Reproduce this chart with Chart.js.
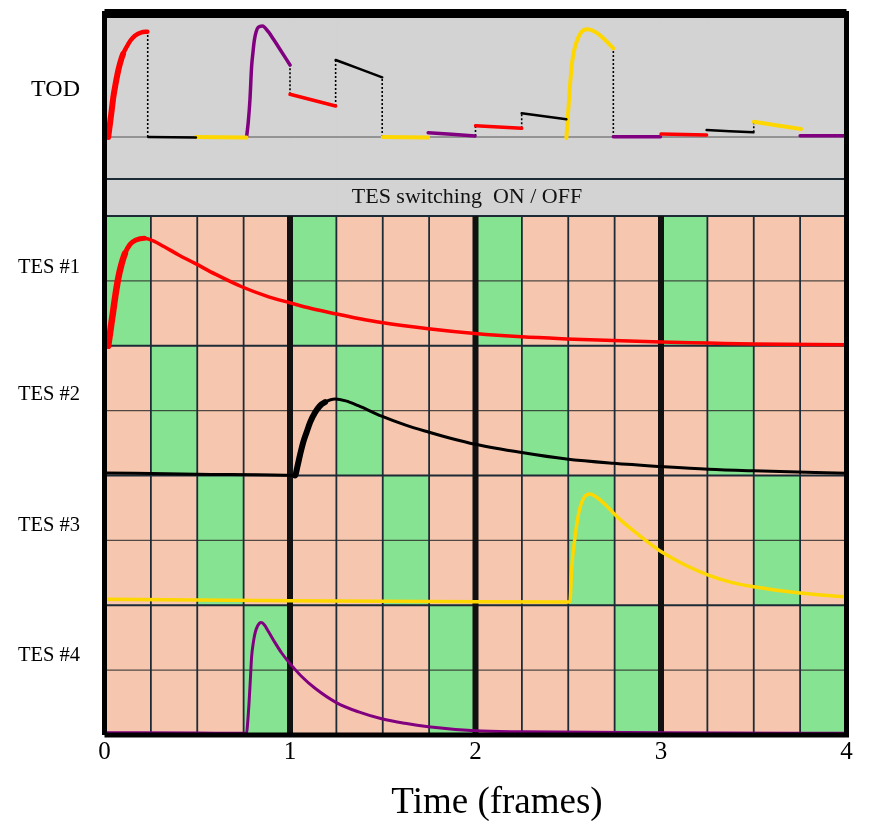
<!DOCTYPE html>
<html lang="fr">
<head>
<meta charset="utf-8">
<title>TOD / TES</title>
<script src="https://cdn.jsdelivr.net/npm/chart.js@4.4.1/dist/chart.umd.min.js"></script>
<style>
  html, body { margin: 0; padding: 0; background: #fff; }
  #graphique { display: block; }
</style>
</head>
<body>
<canvas id="graphique" width="873" height="821"></canvas>
<script>
'use strict';

/* === DONNÉES === */

// axe des temps, en trames
const GRADUATIONS_X = [0, 1, 2, 3, 4];

// étiquettes de gauche (de bas en haut) et leur hauteur en unités de ligne
const ETIQUETTES_LIGNES = ['TES #4', 'TES #3', 'TES #2', 'TES #1', 'TOD'];
const POSITIONS_ETIQUETTES = [0.609, 1.611, 2.62, 3.599, 4.971];

// centres des 16 colonnes (un quart de trame chacune)
const COLONNES = [0.125, 0.375, 0.625, 0.875, 1.125, 1.375, 1.625, 1.875,
  2.125, 2.375, 2.625, 2.875, 3.125, 3.375, 3.625, 3.875];
const LIMITES_COLONNES = [0.25, 0.5, 0.75, 1, 1.25, 1.5, 1.75, 2, 2.25, 2.5, 2.75, 3, 3.25, 3.5, 3.75];
const LIMITES_TRAMES = [1, 2, 3];

// colonnes où chaque TES est ON (vert)
const ON_TES1 = [0.125, 1.125, 2.125, 3.125];
const ON_TES2 = [0.375, 1.375, 2.375, 3.375];
const ON_TES3 = [0.625, 1.625, 2.625, 3.625];
const ON_TES4 = [0.875, 1.875, 2.875, 3.875];

// signaux TES : [temps, hauteur dans la ligne (0 = bas, 1 = haut)]
const TES1_ROUGE = [
  [0.02, 0], [0.035, 0.15], [0.047, 0.27], [0.06, 0.40], [0.074, 0.52], [0.09, 0.62], [0.11, 0.71],
  [0.137, 0.78], [0.17, 0.815], [0.215, 0.829], [0.26, 0.81], [0.32, 0.765], [0.4, 0.70], [0.488, 0.635],
  [0.6, 0.55], [0.74, 0.455], [0.87, 0.385], [1.0, 0.331], [1.12, 0.285], [1.252, 0.245], [1.37, 0.21],
  [1.494, 0.179], [1.746, 0.132], [1.997, 0.095], [2.249, 0.069], [2.49, 0.053], [2.743, 0.04], [3.0, 0.029],
  [3.255, 0.021], [3.5, 0.013], [4.0, 0.008]
];
const TES2_NOIR = [
  [0, 0.02], [0.5, 0.01], [1.0, 0.002], [1.027, 0], [1.04, 0.07], [1.054, 0.158], [1.07, 0.25], [1.09, 0.335],
  [1.11, 0.415], [1.135, 0.485], [1.16, 0.535], [1.189, 0.565], [1.243, 0.589], [1.3, 0.575], [1.368, 0.538],
  [1.494, 0.457], [1.62, 0.39], [1.746, 0.335], [1.87, 0.285], [1.997, 0.241], [2.249, 0.177], [2.49, 0.127],
  [2.743, 0.094], [3.0, 0.069], [3.255, 0.048], [3.5, 0.036], [4.0, 0.018]
];
const TES3_JAUNE = [
  [0, 0.046], [1.0, 0.035], [2.0, 0.027], [2.5, 0.025], [2.51, 0.03], [2.518, 0.27], [2.536, 0.521], [2.55, 0.66],
  [2.563, 0.75], [2.59, 0.84], [2.617, 0.857], [2.653, 0.832], [2.7, 0.775], [2.743, 0.712], [2.8, 0.635],
  [2.869, 0.555], [2.94, 0.475], [3.004, 0.41], [3.13, 0.31], [3.255, 0.232], [3.37, 0.18], [3.5, 0.142],
  [3.749, 0.094], [4.0, 0.063]
];
const TES4_VIOLET = [
  [0, 0.018], [0.5, 0.015], [0.766, 0.013], [0.772, 0.1], [0.779, 0.244], [0.786, 0.42], [0.793, 0.602],
  [0.802, 0.71], [0.811, 0.782], [0.825, 0.84], [0.844, 0.867], [0.86, 0.852], [0.883, 0.80], [0.92, 0.71],
  [0.955, 0.632], [1.0, 0.55], [1.06, 0.455], [1.135, 0.36], [1.252, 0.248], [1.37, 0.178], [1.494, 0.125],
  [1.62, 0.09], [1.746, 0.064], [1.997, 0.033], [2.249, 0.025], [3.0, 0.018], [4.0, 0.013]
];

// TOD : [temps, valeur], null = coupure entre deux morceaux
const TOD_ROUGE = [
  [0.02, 0], [0.03, 0.14], [0.039, 0.27], [0.047, 0.39], [0.057, 0.503], [0.07, 0.63], [0.084, 0.737],
  [0.1, 0.83], [0.12, 0.903], [0.14, 0.965], [0.164, 1.013], [0.2, 1.047], [0.231, 1.053],
  null, [1.0, 0.427], [1.246, 0.31],
  null, [2.0, 0.113], [2.249, 0.087],
  null, [3.0, 0.03], [3.246, 0.02]
];
const TOD_NOIR = [
  [0.236, 0], [0.493, -0.005],
  null, [1.246, 0.77], [1.368, 0.687], [1.497, 0.597],
  null, [2.249, 0.237], [2.49, 0.177],
  null, [3.246, 0.07], [3.498, 0.047]
];
const TOD_JAUNE = [
  [0.493, 0], [0.766, -0.005],
  null, [1.5, 0], [1.745, -0.005],
  null, [2.49, -0.01], [2.504, 0.37], [2.518, 0.703], [2.53, 0.85], [2.542, 0.937], [2.572, 1.053],
  [2.603, 1.077], [2.644, 1.053], [2.689, 0.987], [2.743, 0.887],
  null, [3.5, 0.153], [3.755, 0.08]
];
const TOD_VIOLET = [
  [0.766, 0], [0.775, 0.15], [0.784, 0.37], [0.793, 0.703], [0.8, 0.84], [0.808, 0.97], [0.829, 1.097],
  [0.851, 1.11], [0.883, 1.053], [0.91, 0.98], [0.937, 0.903], [1.0, 0.72],
  null, [1.745, 0.043], [1.997, 0.01],
  null, [2.743, 0.003], [2.997, 0.003],
  null, [3.75, 0.013], [4.0, 0.013]
];

// sauts en pointillés du TOD
const POINTILLES_X = [0.233, 1.0, 1.246, 1.497, 2.0, 2.249, 2.743, 3.5];
const POINTILLES_HAUT = [1.053, 0.72, 0.77, 0.597, 0.125, 0.25, 0.887, 0.153];
const POINTILLES_BAS = [0, 0.427, 0.31, 0, 0.01, 0.087, 0, 0.047];

const TEXTE_BANDEAU = 'TES switching  ON / OFF';
const TITRE_X = 'Time (frames)';

/* === MISE EN PAGE === */

const POLICE = '"Liberation Serif", "Times New Roman", serif';
const Y_MAX = 5.561;      // haut de la zone de tracé (1 unité = une ligne TES)
const Y_BANDEAU = 4.285;  // trait entre le TOD et le bandeau
const TOD_BASE = 4.609;   // ligne de base du TOD
const TOD_UNITE = 0.7707; // une unité TOD en unités de ligne

const VERT = '#86e391';
const SAUMON = '#f6c6ae';
const GRIS = '#d3d3d3';
const TRAIT_GRILLE = '#1c2b36';

/* === HELPERS === */

function versPoints(paires) {
  let dernierX = 0;
  return paires.map(p => {
    if (!p) return { x: dernierX, y: null };
    dernierX = p[0];
    return { x: p[0], y: p[1] };
  });
}

function ligne(paires, options) {
  return Object.assign({
    type: 'line',
    data: versPoints(paires),
    pointRadius: 0,
    fill: false,
    spanGaps: false,
    tension: 0,
    borderCapStyle: 'butt',
    yAxisID: 'y'
  }, options);
}

function courbe(paires, couleur, largeur, axe, options) {
  return ligne(paires, Object.assign({
    borderColor: couleur,
    borderWidth: largeur,
    cubicInterpolationMode: 'monotone',
    borderJoinStyle: 'round',
    borderCapStyle: 'round',
    yAxisID: axe,
    order: 3
  }, options || {}));
}

function barres(centres, bas, haut, couleur, ordre) {
  return {
    type: 'bar',
    data: centres.map(x => ({ x, y: [bas, haut] })),
    backgroundColor: couleur,
    borderWidth: 0,
    barPercentage: 1,
    categoryPercentage: 1,
    grouped: false,
    yAxisID: 'y',
    order: ordre
  };
}

function segmentsVerticaux(xs, bas, haut) {
  const paires = [];
  xs.forEach(x => paires.push([x, bas], [x, haut], null));
  return paires;
}

function segmentsHorizontaux(ys) {
  const paires = [];
  ys.forEach(y => paires.push([0, y], [4, y], null));
  return paires;
}

function axeCache(base, unite) {
  return { type: 'linear', display: false, min: -base / unite, max: (Y_MAX - base) / unite };
}

/* === JEUX DE DONNÉES === */

function construireJeux() {
  const pointilles = [];
  POINTILLES_X.forEach((x, i) => pointilles.push([x, POINTILLES_BAS[i]], [x, POINTILLES_HAUT[i]], null));

  return [
    barres(COLONNES, 0, 4, SAUMON, 20),
    barres(COLONNES, 4, Y_MAX, GRIS, 20),
    barres(ON_TES1, 3, 4, VERT, 19),
    barres(ON_TES2, 2, 3, VERT, 19),
    barres(ON_TES3, 1, 2, VERT, 19),
    barres(ON_TES4, 0, 1, VERT, 19),

    ligne(segmentsVerticaux(LIMITES_COLONNES, 0, 4), { borderColor: TRAIT_GRILLE, borderWidth: 1.8, order: 15 }),
    ligne(segmentsHorizontaux([0.5, 1.5, 2.5, 3.5]), { borderColor: 'rgba(40,40,40,0.8)', borderWidth: 1.3, order: 15 }),
    ligne(segmentsHorizontaux([1, 2, 3, 4, Y_BANDEAU]), { borderColor: TRAIT_GRILLE, borderWidth: 2, order: 14 }),
    ligne(segmentsVerticaux(LIMITES_TRAMES, 0, 4), { borderColor: '#111', borderWidth: 6, order: 12 }),

    ligne([[0, 0], [4, 0]], { borderColor: '#555', borderWidth: 1, yAxisID: 'yTod', order: 12 }),
    ligne(pointilles, { borderColor: '#000', borderWidth: 1.6, borderDash: [2, 2], yAxisID: 'yTod', order: 11 }),

    courbe(TOD_ROUGE, '#ff0000', 3.5, 'yTod', {
      segment: { borderWidth: c => (c.p1DataIndex <= 7 ? 6 : (c.p1DataIndex <= 12 ? 4.5 : 3.5)) }
    }),
    courbe(TOD_NOIR, '#000000', 2.5, 'yTod'),
    courbe(TOD_JAUNE, '#ffd700', 4, 'yTod'),
    courbe(TOD_VIOLET, '#800080', 3.5, 'yTod'),

    courbe(TES1_ROUGE, '#ff0000', 3.5, 'yT1', {
      segment: { borderWidth: c => (c.p1DataIndex <= 6 ? 6.5 : (c.p1DataIndex <= 9 ? 5 : 3.5)) }
    }),
    courbe(TES2_NOIR, '#000000', 3, 'yT2', {
      segment: { borderWidth: c => (c.p0DataIndex >= 3 && c.p1DataIndex <= 11 ? 6 : 3) }
    }),
    courbe(TES3_JAUNE, '#ffd700', 3.5, 'yT3'),
    courbe(TES4_VIOLET, '#800080', 3, 'yT4'),

    ligne([[0, 0], [4, 0], [4, Y_MAX], [0, Y_MAX], [0, 0]], {
      borderColor: '#000', borderWidth: 5, borderJoinStyle: 'miter', clip: false, order: 1
    }),
    ligne([[0, Y_MAX], [4, Y_MAX]], { borderColor: '#000', borderWidth: 9, clip: false, order: 1 })
  ];
}

/* === PLUGIN TEXTES (bandeau + titre de l'axe) === */

const pluginTextes = {
  id: 'textes',
  afterDatasetsDraw(chart) {
    const { ctx, scales } = chart;
    ctx.save();
    ctx.fillStyle = '#111';
    ctx.textAlign = 'center';
    ctx.textBaseline = 'alphabetic';
    ctx.font = `22px ${POLICE}`;
    ctx.fillText(TEXTE_BANDEAU, scales.x.getPixelForValue(1.954), scales.y.getPixelForValue(4.1));
    ctx.fillStyle = '#000';
    ctx.font = `37px ${POLICE}`;
    ctx.fillText(TITRE_X, scales.x.getPixelForValue(2.116), scales.y.getPixelForValue(-0.599));
    ctx.restore();
  }
};

/* === GRAPHIQUE === */

function initialiserGraphique() {
  const ctx = document.getElementById('graphique').getContext('2d');
  new Chart(ctx, {
    type: 'line',
    data: { datasets: construireJeux() },
    plugins: [pluginTextes],
    options: {
      responsive: false,
      animation: false,
      events: [],
      layout: { padding: { top: 13.5, right: 26.5, left: 0, bottom: 0 } },
      plugins: { legend: { display: false }, tooltip: { enabled: false } },
      scales: {
        x: {
          type: 'linear',
          min: 0,
          max: 4,
          offset: false,
          afterBuildTicks: s => { s.ticks = GRADUATIONS_X.map(v => ({ value: v })); },
          ticks: { color: '#000', font: { family: POLICE, size: 25 }, padding: 2, maxRotation: 0, autoSkip: false },
          grid: { display: false, drawTicks: false },
          border: { display: false },
          afterFit: s => { s.height = 86; s.paddingLeft = 0; s.paddingRight = 0; }
        },
        y: {
          type: 'linear',
          position: 'left',
          min: 0,
          max: Y_MAX,
          afterBuildTicks: s => { s.ticks = POSITIONS_ETIQUETTES.map(v => ({ value: v })); },
          ticks: {
            autoSkip: false,
            color: '#000',
            padding: 24.5,
            callback: (v, i) => ETIQUETTES_LIGNES[i],
            font: c => ({ family: POLICE, size: c.index === 4 ? 24 : 20.5 })
          },
          grid: { display: false, drawTicks: false },
          border: { display: false },
          afterFit: s => { s.width = 104.5; s.paddingTop = 0; s.paddingBottom = 0; }
        },
        yTod: axeCache(TOD_BASE, TOD_UNITE),
        yT1: axeCache(3, 1),
        yT2: axeCache(2, 1),
        yT3: axeCache(1, 1),
        yT4: axeCache(0, 1)
      }
    }
  });
}

/* === DÉMARRAGE === */

document.addEventListener('DOMContentLoaded', initialiserGraphique);
</script>
</body>
</html>
